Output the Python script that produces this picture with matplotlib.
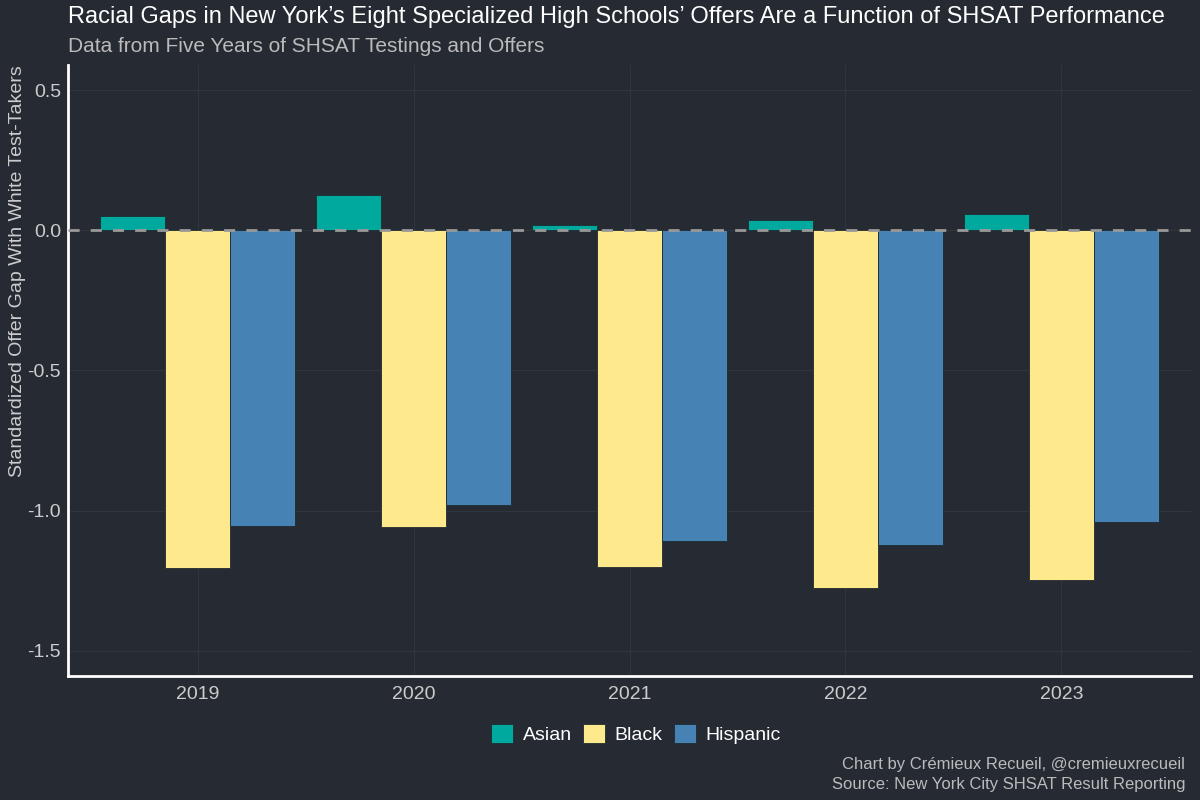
import numpy as np
import matplotlib
matplotlib.use("Agg")
import matplotlib.pyplot as plt

plt.rcParams['font.family'] = ['Liberation Sans', 'DejaVu Sans']

years = ["2019", "2020", "2021", "2022", "2023"]
groups = ["Asian", "Black", "Hispanic"]
asian = [0.050, 0.125, 0.018, 0.036, 0.057]
black = [-1.204, -1.057, -1.200, -1.275, -1.246]
hispanic = [-1.054, -0.979, -1.107, -1.121, -1.039]
colors = ["#00a99d", "#ffe98d", "#4682b4"]

bg = "#252a33"
grid = "#30353e"

fig = plt.figure(figsize=(12, 8), dpi=100, facecolor=bg)
ax = fig.add_axes([68/1200, 1-676/800, (1191-68)/1200, (676-65)/800])
ax.set_facecolor(bg)

x = np.arange(len(years))
w = 0.3
for i, (vals, c, g) in enumerate(zip([asian, black, hispanic], colors, groups)):
    ax.bar(x + (i-1)*w, vals, width=w, color=c, label=g,
           edgecolor="#1f2b30", linewidth=0.6, zorder=2)

ax.axhline(0, color="#999999", linestyle=(0, (4, 4)), linewidth=2, zorder=3)

ax.set_xlim(-0.6, 4.6)
ax.set_ylim(-1.59, 0.59)
ax.set_xticks(x)
ax.set_xticklabels(years)
ax.set_yticks([-1.5, -1.0, -0.5, 0.0, 0.5])
ax.set_yticklabels(["-1.5", "-1.0", "-0.5", "0.0", "0.5"])
ax.tick_params(length=0, colors="#cccccc", labelsize=14)
ax.tick_params(axis="y", pad=5)
ax.tick_params(axis="x", pad=7)
ax.grid(True, color=grid, linewidth=0.8, zorder=0)
ax.set_axisbelow(True)
for s in ["top", "right"]:
    ax.spines[s].set_visible(False)
for s in ["left", "bottom"]:
    ax.spines[s].set_color("white")
    ax.spines[s].set_linewidth(2)

ax.set_ylabel("Standardized Offer Gap With White Test-Takers", color="#cccccc",
              fontsize=14, labelpad=1, loc="top")

fig.text(68/1200, 1-17/800, "Racial Gaps in New York\u2019s Eight Specialized High Schools\u2019 Offers Are a Function of SHSAT Performance",
         color="white", fontsize=17, va="center", ha="left")
fig.text(68/1200, 1-47/800, "Data from Five Years of SHSAT Testings and Offers",
         color="#bbbbbb", fontsize=15, va="center", ha="left")

leg = fig.legend(loc="center", bbox_to_anchor=(636/1200, 1-734/800), ncol=3,
                 frameon=False, fontsize=14, handlelength=1.1, handleheight=1.1,
                 handletextpad=0.5, columnspacing=0.6)
for t in leg.get_texts():
    t.set_color("white")

fig.text(1185/1200, 1-764/800, "Chart by Cr\u00e9mieux Recueil, @cremieuxrecueil",
         color="#bbbbbb", fontsize=12, ha="right", va="center")
fig.text(1185/1200, 1-784/800, "Source: New York City SHSAT Result Reporting",
         color="#bbbbbb", fontsize=12, ha="right", va="center")

fig.savefig("out.png", dpi=100, facecolor=bg)
